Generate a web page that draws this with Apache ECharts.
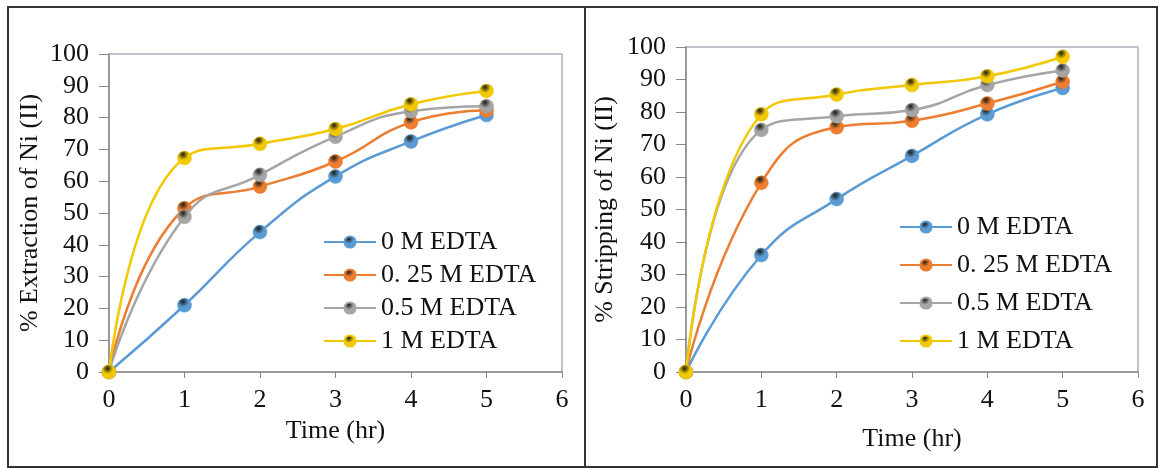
<!DOCTYPE html>
<html>
<head>
<meta charset="utf-8">
<script src="https://cdn.jsdelivr.net/npm/echarts@6/dist/echarts.min.js"></script>
<style>
  html, body { margin: 0; padding: 0; background: #fff; }
  #chart { position: absolute; left: 0; top: 0; width: 1159px; height: 470px; }
  .frame { position: absolute; border: 2px solid #333; box-sizing: border-box; pointer-events: none; }
</style>
</head>
<body>
<div id="chart"></div>
<div class="frame" style="left:7px; top:6px; width:579px; height:462px;"></div>
<div class="frame" style="left:584px; top:6px; width:574px; height:462px;"></div>
<script>
const times = [0, 1, 2, 3, 4, 5];
const seriesNames = ['0 M EDTA', '0. 25 M EDTA', '0.5 M EDTA', '1 M EDTA'];
const xTicks = [0, 1, 2, 3, 4, 5, 6];
const yTicks = [0, 10, 20, 30, 40, 50, 60, 70, 80, 90, 100];

// % Extraction of Ni (II)
const extraction0M   = [0, 21, 44, 61.5, 72.5, 80.8];
const extraction025M = [0, 51.5, 58.3, 66.2, 78.5, 82.3];
const extraction05M  = [0, 48.8, 62, 74, 82, 83.6];
const extraction1M   = [0, 67.3, 71.8, 76.4, 84.2, 88.4];

// % Stripping of Ni (II)
const stripping0M   = [0, 36, 53.2, 66.5, 79.3, 87.4];
const stripping025M = [0, 58.2, 75.3, 77.3, 82.6, 89.3];
const stripping05M  = [0, 74.5, 78.7, 80.6, 88.3, 92.8];
const stripping1M   = [0, 79.3, 85.4, 88.3, 91, 97];

const colors = ['#5B9BD5', '#ED7D31', '#A5A5A5', '#F2C800'];

function sphere(c) {
  return {
    type: 'radial', x: 0.4, y: 0.25, r: 0.85,
    colorStops: [
      { offset: 0, color: '#1e1e14' },
      { offset: 0.45, color: c },
      { offset: 1, color: c }
    ]
  };
}

function pts(arr) { return times.map((t, i) => [t, arr[i]]); }

const serif = 'Liberation Serif, Times New Roman, serif';

function makeSeries(arrs, gi) {
  return arrs.map((arr, k) => ({
    name: seriesNames[k],
    type: 'line',
    xAxisIndex: gi, yAxisIndex: gi,
    data: pts(arr),
    smooth: 0.5,
    symbol: 'circle',
    symbolSize: 14,
    lineStyle: { color: colors[k], width: 2.5 },
    itemStyle: { color: sphere(colors[k]), borderColor: colors[k], borderWidth: 0.5 },
    z: 2 + k
  }));
}

function xAxis(gi, nameGap) {
  return {
    gridIndex: gi, type: 'value', min: 0, max: 6, interval: 1,
    name: 'Time (hr)', nameLocation: 'middle', nameGap: nameGap,
    nameTextStyle: { fontFamily: serif, fontSize: 26, color: '#111' },
    axisLine: { show: true, lineStyle: { color: '#8a8a8a', width: 1.5 } },
    axisTick: { show: true, inside: false, length: 6, lineStyle: { color: '#8a8a8a' } },
    axisLabel: { fontFamily: serif, fontSize: 26, color: '#111', margin: 15,
                 formatter: v => xTicks.includes(v) ? String(v) : '' },
    splitLine: { show: false }
  };
}

function yAxis(gi, name, nameGap) {
  return {
    gridIndex: gi, type: 'value', min: 0, max: 100, interval: 10,
    name: name, nameLocation: 'middle', nameGap: nameGap, nameRotate: 90,
    nameTextStyle: { fontFamily: serif, fontSize: 26, color: '#111' },
    axisLine: { show: true, lineStyle: { color: '#8a8a8a', width: 1.5 } },
    axisTick: { show: true, inside: false, length: 10, lineStyle: { color: '#8a8a8a' } },
    axisLabel: { fontFamily: serif, fontSize: 26, color: '#111', margin: 20,
                 formatter: v => yTicks.includes(v) ? String(v) : '' },
    splitLine: { show: false }
  };
}

function legend(left, top, gap) {
  return {
    orient: 'vertical', left: left, top: top,
    itemWidth: 52, itemHeight: 14, itemGap: gap,
    data: seriesNames,
    textStyle: { fontFamily: serif, fontSize: 26, color: '#111' },
    selectedMode: false
  };
}

const chart = echarts.init(document.getElementById('chart'), null, { renderer: 'canvas' });
chart.setOption({
  animation: false,
  backgroundColor: '#fff',
  grid: [
    { left: 109, top: 54, width: 453, height: 318, show: true, borderColor: '#a9b3bd', borderWidth: 1.5, backgroundColor: 'transparent' },
    { left: 686, top: 47, width: 452, height: 325, show: true, borderColor: '#a9b3bd', borderWidth: 1.5, backgroundColor: 'transparent' }
  ],
  xAxis: [xAxis(0, 44), xAxis(1, 54)],
  yAxis: [yAxis(0, '% Extraction of Ni (II)', 66), yAxis(1, '% Stripping of Ni (II)', 68)],
  legend: [legend(318, 224, 7), legend(894, 209, 12)],
  series: [
    ...makeSeries([extraction0M, extraction025M, extraction05M, extraction1M], 0),
    ...makeSeries([stripping0M, stripping025M, stripping05M, stripping1M], 1)
  ]
});
</script>
</body>
</html>
